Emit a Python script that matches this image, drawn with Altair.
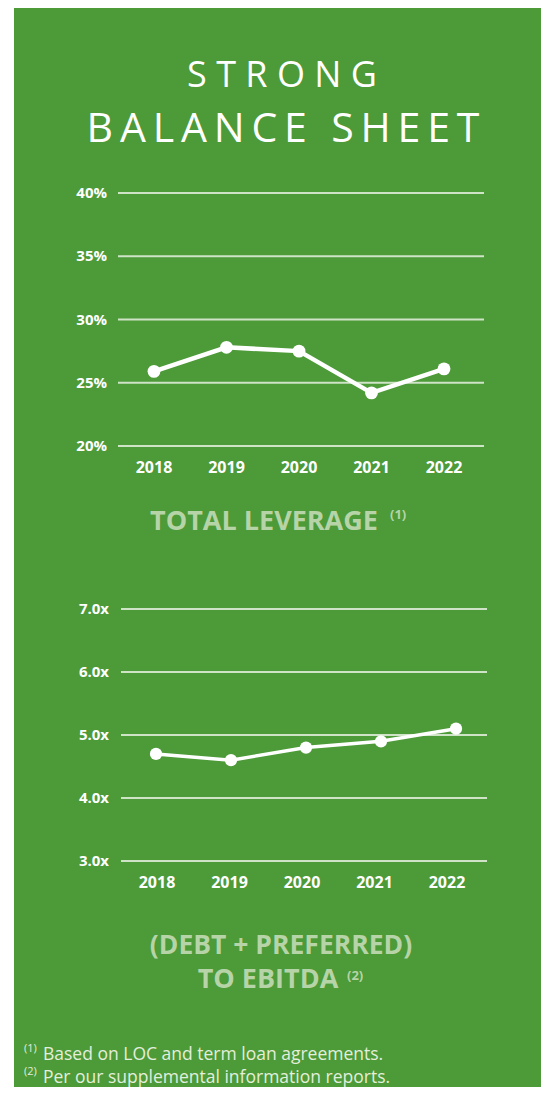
import altair as alt
import pandas as pd

# ---------------- data ----------------
years = ["2018", "2019", "2020", "2021", "2022"]
leverage = [25.9, 27.8, 27.5, 24.2, 26.1]
lev_ticks = [20, 25, 30, 35, 40]
lev_labels = ["20%", "25%", "30%", "35%", "40%"]
ebitda = [4.7, 4.6, 4.8, 4.9, 5.1]
eb_ticks = [3, 4, 5, 6, 7]
eb_labels = ["3.0x", "4.0x", "5.0x", "6.0x", "7.0x"]

title_1 = "STRONG"
title_2 = ["BALANCE", "SHEET"]
sub_1 = "TOTAL LEVERAGE"
sub_2a = "(DEBT + PREFERRED)"
sub_2b = "TO EBITDA"
note_marks = ["(1)", "(2)"]
notes = ["Based on LOC and term loan agreements.", "Per our supplemental information reports."]

# ---------------- style ----------------
GREEN = "#4c9a38"
GRID = "#cfe3c7"
SUB = "#b6d4a8"
NOTE = "#e3eedc"
FONT = "Open Sans"

lev_df = pd.DataFrame({"year": years, "value": leverage})
lev_tick_df = pd.DataFrame({"tick": lev_ticks, "label": lev_labels})
eb_df = pd.DataFrame({"year": years, "value": ebitda})
eb_tick_df = pd.DataFrame({"tick": eb_ticks, "label": eb_labels})


def txt(s, x, y, size, color="white", weight="normal", align="center", baseline="alphabetic"):
    return alt.Chart(pd.DataFrame({"t": [s]})).mark_text(
        font=FONT, fontSize=size, fontWeight=weight, color=color,
        align=align, baseline=baseline,
    ).encode(text="t:N", x=alt.value(x), y=alt.value(y))


# ---------------- top chart: total leverage ----------------
top_x = alt.X("year:O", scale=alt.Scale(type="point", range=[140, 430], padding=0), axis=None)
top_ys = alt.Scale(domain=[20, 40], range=[438, 185])

top_grid = alt.Chart(lev_tick_df).mark_rule(color=GRID, strokeWidth=2).encode(
    y=alt.Y("tick:Q", scale=top_ys, axis=None), x=alt.value(104), x2=alt.value(470))
top_ylab = alt.Chart(lev_tick_df).mark_text(
    font=FONT, fontSize=15, fontWeight="bold", color="white", align="right", baseline="middle"
).encode(y=alt.Y("tick:Q", scale=top_ys, axis=None), x=alt.value(93), text="label:N")
top_line = alt.Chart(lev_df).mark_line(color="white", strokeWidth=4.5).encode(
    x=top_x, y=alt.Y("value:Q", scale=top_ys, axis=None))
top_pts = alt.Chart(lev_df).mark_circle(color="white", size=165, opacity=1).encode(
    x=top_x, y=alt.Y("value:Q", scale=top_ys, axis=None))
top_xlab = alt.Chart(lev_df).mark_text(
    font=FONT, fontSize=16, fontWeight="bold", color="white", baseline="middle"
).encode(x=top_x, y=alt.value(460), text="year:N")
top = alt.layer(top_grid, top_ylab, top_line, top_pts, top_xlab)

# ---------------- bottom chart: (debt + preferred) to EBITDA ----------------
bot_x = alt.X("year:O", scale=alt.Scale(type="point", range=[142, 442], padding=0), axis=None)
bot_ys = alt.Scale(domain=[3, 7], range=[853, 601])

bot_grid = alt.Chart(eb_tick_df).mark_rule(color=GRID, strokeWidth=2).encode(
    y=alt.Y("tick:Q", scale=bot_ys, axis=None), x=alt.value(107), x2=alt.value(473))
bot_ylab = alt.Chart(eb_tick_df).mark_text(
    font=FONT, fontSize=15, fontWeight="bold", color="white", align="right", baseline="middle"
).encode(y=alt.Y("tick:Q", scale=bot_ys, axis=None), x=alt.value(95), text="label:N")
bot_line = alt.Chart(eb_df).mark_line(color="white", strokeWidth=3.5).encode(
    x=bot_x, y=alt.Y("value:Q", scale=bot_ys, axis=None))
bot_pts = alt.Chart(eb_df).mark_circle(color="white", size=150, opacity=1).encode(
    x=bot_x, y=alt.Y("value:Q", scale=bot_ys, axis=None))
bot = alt.layer(bot_grid, bot_ylab, bot_line, bot_pts)

bot_xlab = alt.Chart(eb_df).mark_text(
    font=FONT, fontSize=16, fontWeight="bold", color="white", baseline="middle"
).encode(x=alt.X("year:O", scale=alt.Scale(type="point", range=[143, 433], padding=0), axis=None),
         y=alt.value(875), text="year:N")

# ---------------- texts ----------------
sp6 = "\u2006"
t1 = txt(" ".join(title_1), 268, 79, 36)
t2 = txt((sp6 + " " + sp6).join(sp6.join(w) for w in title_2), 269, 134, 41)
s1 = txt(sub_1, 250, 522, 27, color=SUB, weight="bold")
s1n = txt(note_marks[0], 376, 511, 13, color=SUB, weight="bold", align="left")
s2a = txt(sub_2a, 267, 946, 26.5, color=SUB, weight="bold")
s2b = txt(sub_2b, 254, 980, 27, color=SUB, weight="bold")
s2n = txt(note_marks[1], 333, 972, 13, color=SUB, weight="bold", align="left")
n1m = txt(note_marks[0], 10, 1044, 11, color=NOTE, align="left")
n1 = txt(notes[0], 29, 1052, 17.5, color=NOTE, align="left")
n2m = txt(note_marks[1], 10, 1067, 11, color=NOTE, align="left")
n2 = txt(notes[1], 29, 1075, 17.5, color=NOTE, align="left")

chart = alt.layer(
    top, bot, bot_xlab, t1, t2, s1, s1n, s2a, s2b, s2n, n1m, n1, n2m, n2
).resolve_scale(x="independent", y="independent").properties(
    width=527, height=1079,
    padding={"left": 6, "top": 0, "right": 0, "bottom": 0},
    autosize=alt.AutoSizeParams(type="none"),
    background="white",
).configure_view(fill=GREEN, stroke=None)

chart.save("out.html", embed_options={"renderer": "svg", "actions": False})
